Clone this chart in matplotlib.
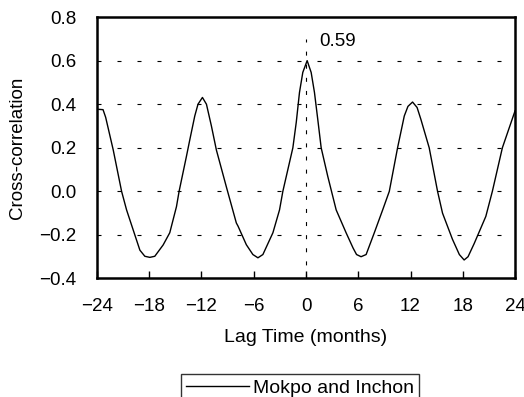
import matplotlib
matplotlib.use("Agg")
import matplotlib.pyplot as plt

plt.rcParams["font.family"] = ["Liberation Sans", "DejaVu Sans"]

# lag (months) and cross-correlation
lag = [-24.0, -23.3, -23.0, -22.13, -21.17, -20.6, -19.65, -19.07, -18.5, -17.93,
       -17.36, -16.4, -15.64, -14.87, -14.57, -13.73, -13.35, -12.77, -12.4, -11.89,
       -11.43, -10.86, -10.29, -9.14, -8.0, -7.8, -6.85, -6.1, -5.52, -4.95,
       -3.8, -3.04, -2.66, -1.51, -1.12, -0.75, -0.37, 0.13, 0.59, 0.97,
       1.35, 1.74, 2.49, 3.46, 4.6, 5.4, 5.8, 6.32, 6.9, 7.84,
       8.8, 9.56, 10.51, 11.28, 11.7, 12.23, 12.75, 13.19, 14.14, 15.1,
       15.67, 16.81, 17.6, 18.15, 18.6, 19.3, 20.64, 21.39, 22.54, 24.0]
xcorr = [0.377, 0.375, 0.34, 0.19, 0.0, -0.085, -0.20, -0.27, -0.298, -0.303,
         -0.298, -0.246, -0.19, -0.07, 0.0, 0.16, 0.235, 0.346, 0.40, 0.431,
         0.40, 0.30, 0.19, 0.02, -0.145, -0.16, -0.245, -0.29, -0.305, -0.29,
         -0.19, -0.085, 0.0, 0.20, 0.317, 0.454, 0.546, 0.60, 0.546, 0.454,
         0.33, 0.20, 0.07, -0.085, -0.19, -0.26, -0.29, -0.30, -0.29, -0.19,
         -0.085, 0.0, 0.20, 0.346, 0.39, 0.41, 0.385, 0.33, 0.20, 0.0,
         -0.10, -0.22, -0.29, -0.315, -0.30, -0.24, -0.115, 0.0, 0.20, 0.37]

grid_levels = [0.6, 0.4, 0.2, 0.0, -0.2]
xticks = [-24, -18, -12, -6, 0, 6, 12, 18, 24]
yticks = [-0.4, -0.2, 0.0, 0.2, 0.4, 0.6, 0.8]
peak_label = "0.59"

fig = plt.figure(figsize=(5.24, 3.97), dpi=100)
ax = fig.add_axes([0.185, 0.2985, 0.798, 0.6585])

for g in grid_levels:
    ax.axhline(g, color="black", lw=0.8, linestyle=(0, (3.6, 14.4)), zorder=1)
ax.plot([0, 0], [-0.4, 0.70], color="black", lw=0.8,
        linestyle=(0, (3.6, 8.2)), zorder=1)

line, = ax.plot(lag, xcorr, color="black", lw=1.0, zorder=2, label="Mokpo and Inchon")
ax.text(1.5, 0.686, peak_label, fontsize=13.5, va="center", ha="left")

ax.set_xlim(-24, 24)
ax.set_ylim(-0.4, 0.8)
ax.set_xticks(xticks)
ax.set_xticklabels([str(t).replace("-", "\u2212") for t in xticks])
ax.set_yticks(yticks)
ax.set_yticklabels([f"{t:.1f}".replace("-", "\u2212") for t in yticks])
ax.tick_params(axis="x", direction="in", length=5, width=1, pad=14, labelsize=13.5)
ax.tick_params(axis="y", length=0, pad=15, labelsize=13.5)
for s in ax.spines.values():
    s.set_linewidth(1.8)

ax.set_xlabel("Lag Time (months)", fontsize=14, labelpad=10)
ax.set_ylabel("Cross-correlation", fontsize=13.5, labelpad=9)

leg = fig.legend(handles=[line], loc="upper center",
                 bbox_to_anchor=(300 / 524, 1 - 364 / 397),
                 fontsize=14, frameon=True, fancybox=False,
                 handlelength=3.2, handletextpad=0.2, borderpad=0.3)
leg.get_frame().set_edgecolor("black")
leg.get_frame().set_linewidth(1.0)

fig.savefig("out.png", dpi=100)
